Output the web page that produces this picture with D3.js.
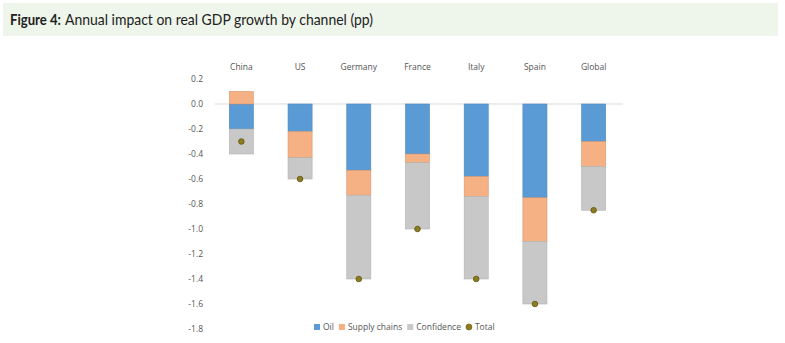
<!DOCTYPE html>
<html>
<head>
<meta charset="utf-8">
<script src="https://cdn.jsdelivr.net/npm/d3@7"></script>
<style>
  html, body { margin: 0; padding: 0; background: #ffffff; }
  svg { display: block; }
</style>
</head>
<body>
<svg id="chart" width="785" height="343"></svg>
<script>
// Annual impact on real GDP growth by channel (pp)
const categories = ["China", "US", "Germany", "France", "Italy", "Spain", "Global"];
const oil          = [-0.20, -0.22, -0.53, -0.40, -0.58, -0.75, -0.30];
const supplyChains = [ 0.10, -0.21, -0.20, -0.07, -0.16, -0.35, -0.20];
const confidence   = [-0.20, -0.17, -0.67, -0.53, -0.66, -0.50, -0.35];
const total        = [-0.30, -0.60, -1.40, -1.00, -1.40, -1.60, -0.85];
const yTicks = [0.2, 0.0, -0.2, -0.4, -0.6, -0.8, -1.0, -1.2, -1.4, -1.6, -1.8];

const series = [
  { name: "Oil", values: oil, fill: "#5b9bd5", stroke: "#4a86bd" },
  { name: "Supply chains", values: supplyChains, fill: "#f5b183", stroke: "#d9956a" },
  { name: "Confidence", values: confidence, fill: "#c8c8c8", stroke: "#b2b2b2" }
];

const svg = d3.select("#chart");
const font = "'Open Sans', 'Noto Sans', sans-serif";

// Title banner
svg.append("rect").attr("x", 3).attr("y", 3).attr("width", 775).attr("height", 33)
  .attr("fill", "#eef5eb");
const title = svg.append("text").attr("y", 25)
  .attr("font-family", "Lato, 'Noto Sans', sans-serif").attr("font-size", 15).attr("fill", "#222");
title.append("tspan").attr("x", 10).attr("font-weight", "bold")
  .attr("textLength", 51).attr("lengthAdjust", "spacingAndGlyphs").text("Figure 4:");
title.append("tspan").attr("x", 65)
  .attr("textLength", 308).attr("lengthAdjust", "spacingAndGlyphs")
  .text("Annual impact on real GDP growth by channel (pp)");

const x = d3.scaleBand().domain(categories).range([212, 623]).paddingInner(0.59).paddingOuter(0.295);
const y = d3.scaleLinear().domain([-1.8, 0.2]).range([329, 79]);

// Y axis labels
const yAxis = d3.axisLeft(y).tickValues(yTicks).tickFormat(d3.format(".1f")).tickSize(0).tickPadding(0);
const yg = svg.append("g").attr("transform", "translate(203,0)").call(yAxis);
yg.select(".domain").remove();
yg.selectAll("text").attr("font-family", font).attr("font-size", 8.5).attr("fill", "#555")
  .attr("dy", "0.32em").text(d => d3.format(".1f")(d).replace("−", "-"));

// Category labels on top
const xAxis = d3.axisTop(x).tickSize(0).tickPadding(0);
const xg = svg.append("g").attr("transform", "translate(0,70)").call(xAxis);
xg.select(".domain").remove();
xg.selectAll("text").attr("font-family", font).attr("font-size", 8.5).attr("fill", "#555");

// Zero line
svg.append("line").attr("x1", 215).attr("x2", 623).attr("y1", y(0)).attr("y2", y(0))
  .attr("stroke", "#d9d9d9").attr("stroke-width", 1);

// Stacked bars (positive and negative parts stacked separately)
categories.forEach((c, i) => {
  let pos = 0, neg = 0;
  series.forEach(s => {
    const v = s.values[i];
    let y0, y1;
    if (v >= 0) { y0 = pos; y1 = pos + v; pos = y1; }
    else { y0 = neg; y1 = neg + v; neg = y1; }
    svg.append("rect")
      .attr("x", x(c)).attr("width", x.bandwidth())
      .attr("y", y(Math.max(y0, y1))).attr("height", Math.abs(y(y0) - y(y1)))
      .attr("fill", s.fill).attr("stroke", s.stroke).attr("stroke-width", 0.6);
  });
});

// Total markers
svg.selectAll("circle.total").data(total).join("circle")
  .attr("class", "total")
  .attr("cx", (d, i) => x(categories[i]) + x.bandwidth() / 2)
  .attr("cy", d => y(d)).attr("r", 2.8)
  .attr("fill", "#8f7d1c").attr("stroke", "#5c5214").attr("stroke-width", 0.8);

// Legend
const legend = svg.append("g").attr("transform", "translate(314,327)");
const items = [
  { name: "Oil", color: "#5b9bd5", type: "rect" },
  { name: "Supply chains", color: "#f5b183", type: "rect" },
  { name: "Confidence", color: "#c8c8c8", type: "rect" },
  { name: "Total", color: "#8f7d1c", type: "circle" }
];
let lx = 0;
items.forEach(it => {
  const g = legend.append("g").attr("transform", `translate(${lx},0)`);
  if (it.type === "rect") {
    g.append("rect").attr("x", 0).attr("y", -3).attr("width", 6).attr("height", 6).attr("fill", it.color);
  } else {
    g.append("circle").attr("cx", 3).attr("cy", 0).attr("r", 3).attr("fill", it.color)
      .attr("stroke", "#5c5214").attr("stroke-width", 0.6);
  }
  const t = g.append("text").attr("x", 9).attr("y", 0).attr("dy", "0.32em")
    .attr("font-family", font).attr("font-size", 8.5).attr("fill", "#555").text(it.name);
  lx += 9 + t.node().getComputedTextLength() + 5;
});
</script>
</body>
</html>
